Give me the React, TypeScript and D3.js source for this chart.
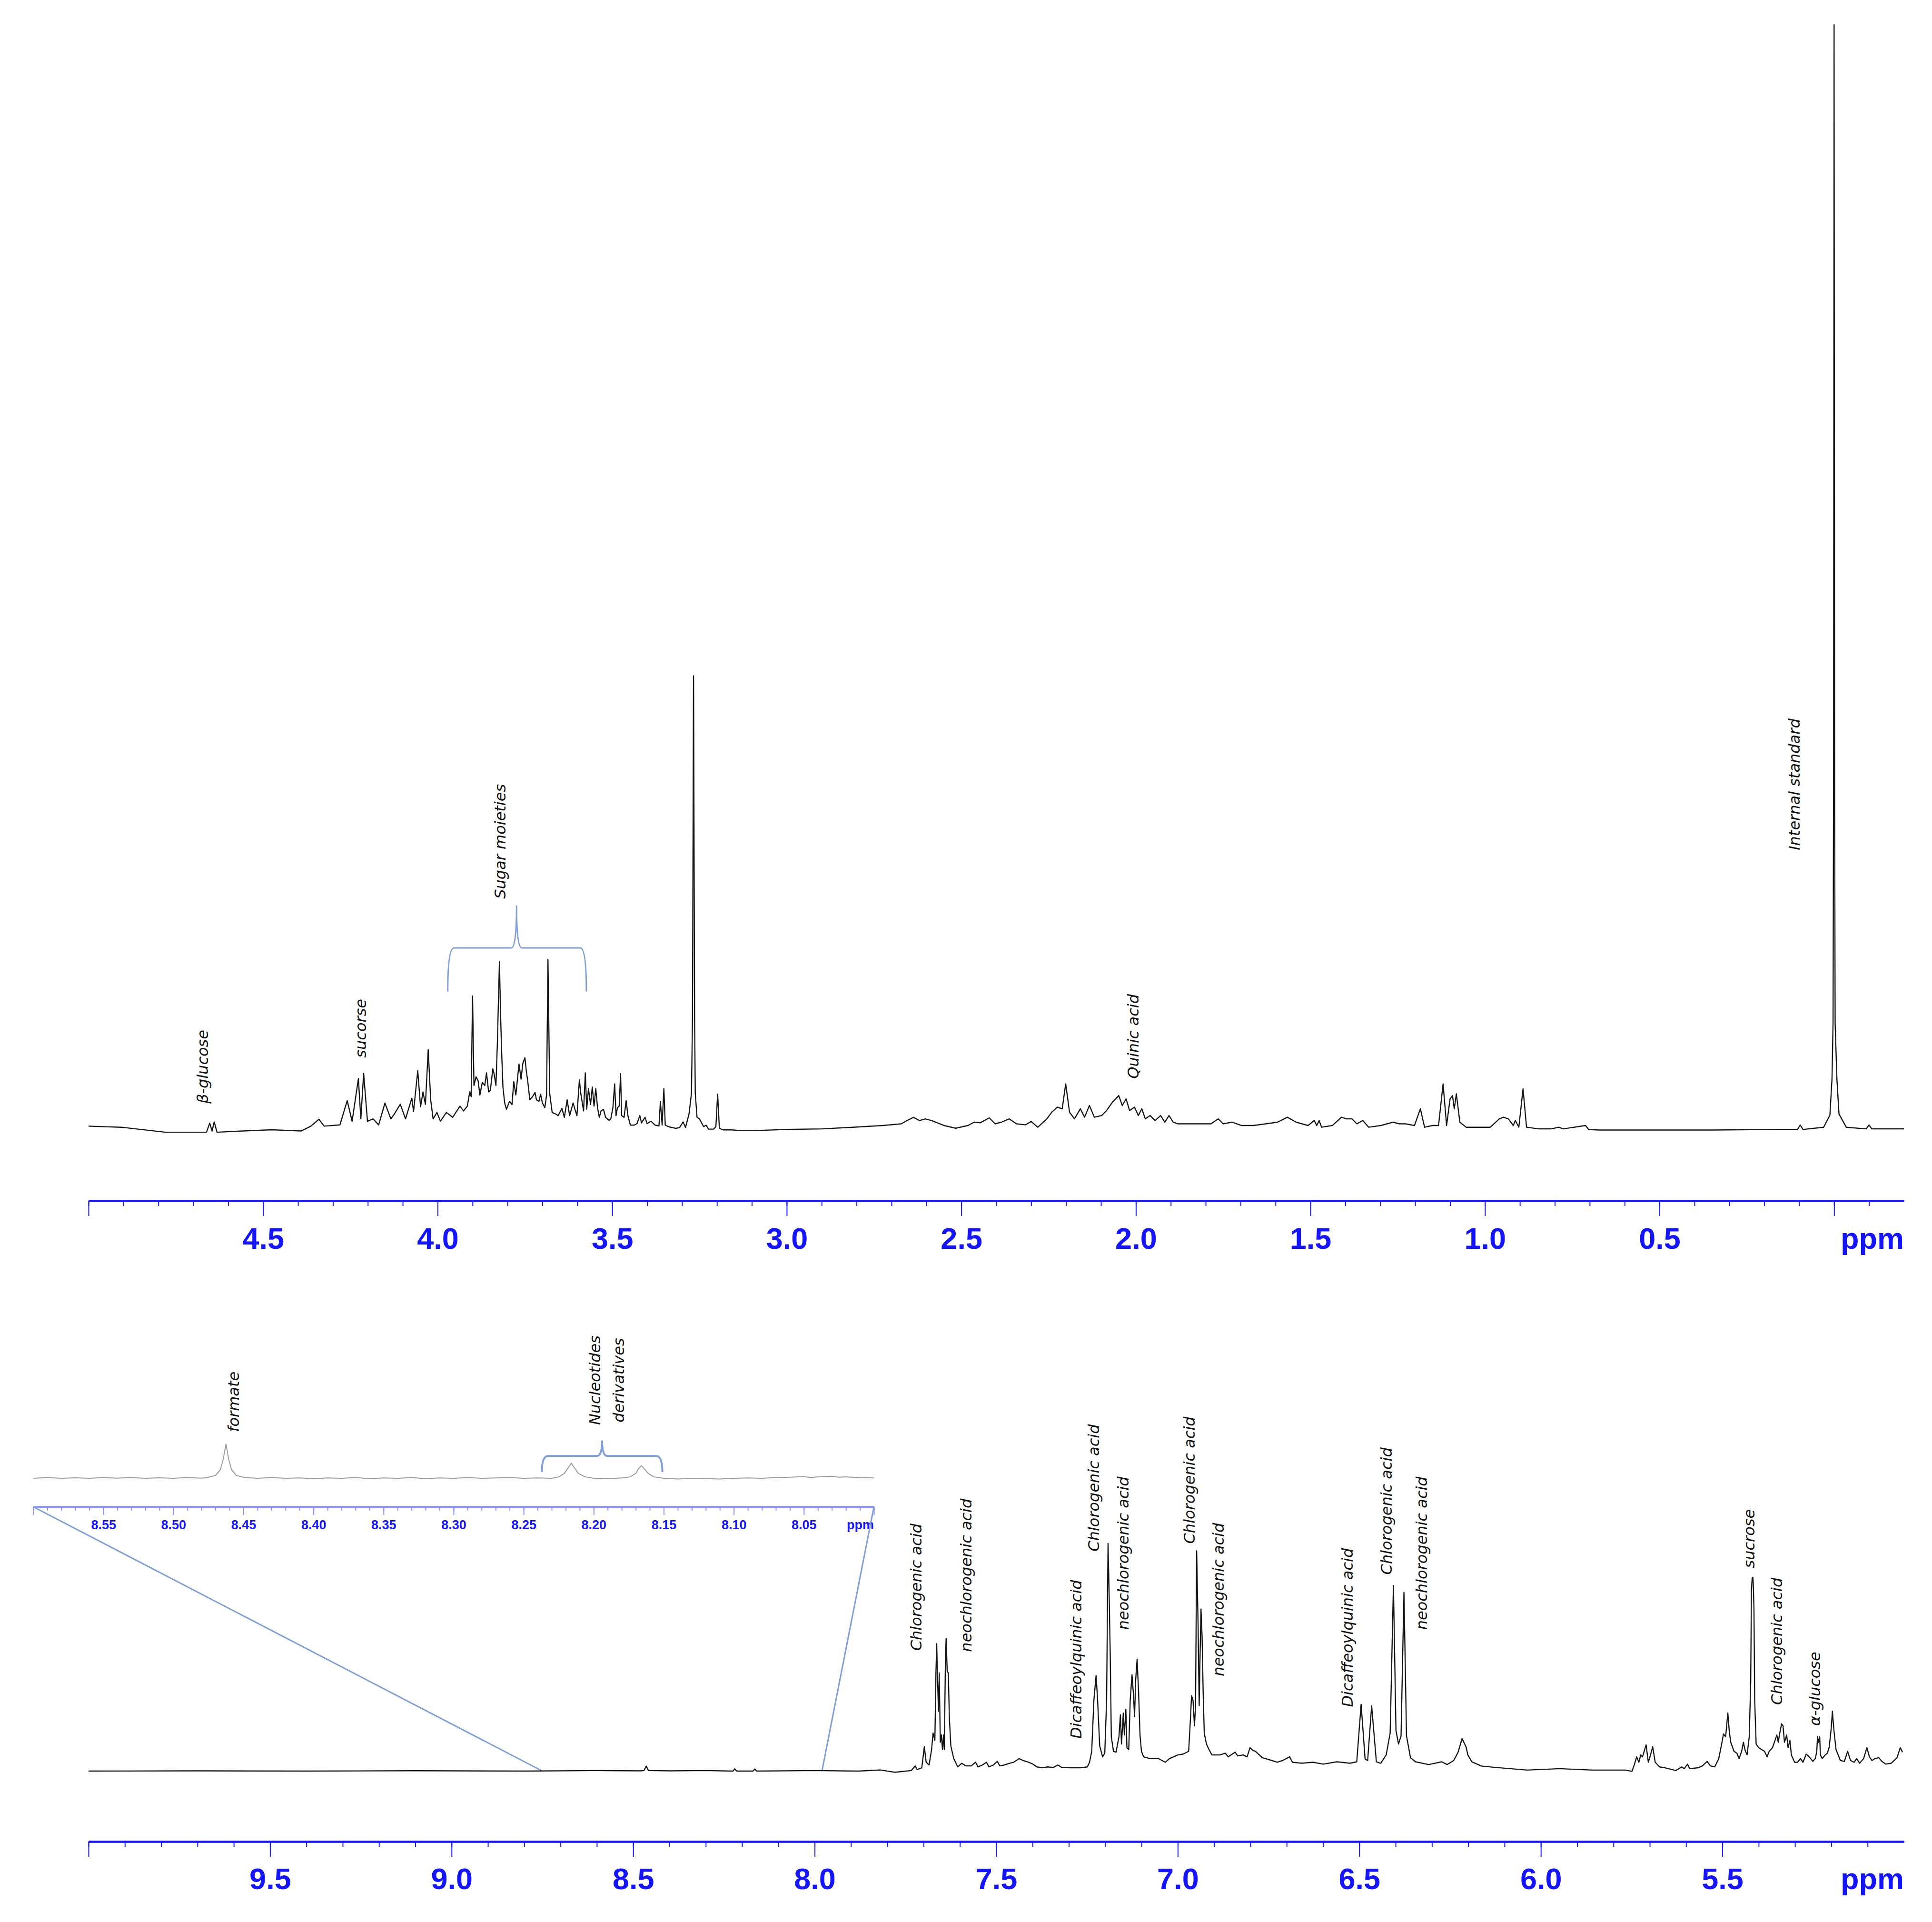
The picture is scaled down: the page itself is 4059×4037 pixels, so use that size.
import { useEffect, useRef } from 'react';
import * as d3 from 'd3';

// 1H NMR traces, [ppm, intensity]; intensity is relative to the internal standard (=100)
const topSpectrum: [number, number][] = [
  [5.0, 0.2], [4.906, 0.1], [4.78, -0.35], [4.662, -0.35], [4.653, 0.47], [4.646, -0.24], [4.64, 0.58], [4.632, -0.35],
  [4.558, -0.24], [4.475, -0.13], [4.391, -0.24], [4.363, 0.2], [4.34, 0.82], [4.325, 0.2], [4.28, 0.31], [4.259, 2.51],
  [4.245, 0.64], [4.227, 4.5], [4.22, 0.86], [4.212, 4.98], [4.201, 0.64], [4.185, 0.86], [4.169, 0.31], [4.151, 2.29],
  [4.134, 0.86], [4.124, 1.3], [4.107, 2.18], [4.092, 0.86], [4.074, 2.73], [4.069, 1.52], [4.057, 5.22], [4.049, 1.96],
  [4.042, 3.29], [4.035, 2.18], [4.027, 7.14], [4.02, 2.59], [4.013, 0.86], [4.002, 1.44], [3.992, 0.65], [3.975, 1.44],
  [3.957, 1.0], [3.936, 2.01], [3.926, 1.58], [3.915, 2.01], [3.908, 3.31], [3.904, 2.88], [3.9, 12.0], [3.896, 3.88],
  [3.89, 4.67], [3.884, 4.3], [3.879, 3.02], [3.872, 4.17], [3.865, 3.88], [3.86, 5.03], [3.854, 3.31], [3.849, 3.45],
  [3.842, 5.39], [3.838, 4.89], [3.833, 3.88], [3.829, 7.62], [3.823, 15.1], [3.82, 10.6], [3.817, 7.19], [3.813, 3.74],
  [3.808, 2.3], [3.803, 1.73], [3.794, 2.45], [3.787, 2.16], [3.782, 4.24], [3.776, 3.02], [3.767, 5.83], [3.761, 4.46],
  [3.756, 5.9], [3.75, 6.4], [3.746, 5.18], [3.742, 4.3], [3.736, 2.59], [3.728, 2.88], [3.721, 3.24], [3.717, 2.59],
  [3.71, 2.45], [3.705, 3.09], [3.7, 2.3], [3.693, 1.87], [3.688, 3.02], [3.684, 15.3], [3.679, 3.16], [3.672, 1.44],
  [3.662, 1.3], [3.655, 1.15], [3.644, 1.8], [3.637, 1.0], [3.629, 2.59], [3.622, 1.15], [3.612, 2.3], [3.606, 1.65],
  [3.601, 1.15], [3.594, 4.39], [3.59, 3.16], [3.582, 1.58], [3.577, 5.03], [3.573, 1.73], [3.568, 3.6], [3.562, 2.16],
  [3.557, 3.74], [3.552, 2.01], [3.547, 3.6], [3.542, 1.87], [3.537, 1.0], [3.532, 1.58], [3.525, 1.73], [3.519, 1.0],
  [3.509, 0.72], [3.504, 0.86], [3.498, 1.87], [3.493, 4.03], [3.489, 1.15], [3.485, 1.87], [3.48, 2.01], [3.476, 4.96],
  [3.473, 1.15], [3.466, 1.0], [3.46, 2.52], [3.455, 1.15], [3.448, 0.29], [3.437, 0.29], [3.429, 0.43], [3.421, 1.15],
  [3.416, 0.5], [3.406, 1.0], [3.4, 0.43], [3.389, 0.65], [3.377, 0.29], [3.366, 0.22], [3.362, 2.45], [3.357, 0.29],
  [3.352, 3.6], [3.348, 0.29], [3.339, 0.15], [3.328, 0.07], [3.318, 0.0], [3.307, 0.07], [3.297, 0.58], [3.29, 0.07],
  [3.28, 1.3], [3.273, 3.16], [3.27, 10], [3.267, 41.0], [3.264, 10], [3.262, 3.16], [3.257, 1.0], [3.25, 0.86],
  [3.238, 0.15], [3.231, 0.29], [3.224, -0.07], [3.21, -0.07], [3.203, 0.15], [3.198, 3.1], [3.193, 0.0], [3.182, -0.14],
  [3.158, -0.14], [3.133, -0.2], [3.088, -0.2], [3.0, -0.1], [2.898, -0.05], [2.811, 0.1], [2.724, 0.26], [2.672, 0.41],
  [2.655, 0.71], [2.637, 1.0], [2.62, 0.71], [2.603, 0.86], [2.585, 0.71], [2.55, 0.26], [2.516, 0.01], [2.481, 0.26],
  [2.463, 0.56], [2.446, 0.5], [2.42, 0.95], [2.403, 0.41], [2.385, 0.56], [2.363, 0.86], [2.342, 0.41], [2.316, 0.32],
  [2.3, 0.62], [2.281, 0.1], [2.255, 0.86], [2.241, 1.46], [2.225, 1.92], [2.211, 1.77], [2.201, 4.03], [2.19, 1.46],
  [2.176, 0.86], [2.159, 1.77], [2.147, 1.01], [2.133, 2.07], [2.119, 1.01], [2.098, 1.16], [2.084, 1.61], [2.067, 2.37],
  [2.049, 2.97], [2.039, 2.07], [2.028, 2.67], [2.018, 1.61], [2.004, 1.92], [1.993, 1.16], [1.983, 1.77], [1.973, 0.86],
  [1.959, 1.16], [1.945, 0.71], [1.929, 1.16], [1.917, 0.56], [1.905, 1.16], [1.893, 0.56], [1.88, 0.41], [1.785, 0.41],
  [1.764, 0.86], [1.75, 0.41], [1.724, 0.56], [1.698, 0.26], [1.663, 0.26], [1.628, 0.41], [1.594, 0.56], [1.566, 1.01],
  [1.541, 0.56], [1.507, 0.26], [1.489, 0.71], [1.482, 0.26], [1.475, 0.71], [1.468, 0.1], [1.437, 0.26], [1.411, 1.01],
  [1.397, 0.86], [1.381, 0.86], [1.367, 0.41], [1.35, 0.71], [1.333, 0.1], [1.298, 0.26], [1.263, 0.56], [1.246, 0.41],
  [1.228, 0.41], [1.202, 0.26], [1.185, 1.77], [1.173, 0.1], [1.15, 0.26], [1.133, 0.26], [1.12, 4.03], [1.11, 0.26],
  [1.1, 2.67], [1.093, 2.97], [1.088, 1.77], [1.082, 3.13], [1.072, 0.56], [1.054, 0.1], [1.028, 0.1], [0.985, 0.1],
  [0.959, 0.86], [0.947, 1.01], [0.933, 0.86], [0.919, 0.26], [0.913, 0.71], [0.903, 0.1], [0.891, 3.58], [0.881, 0.1],
  [0.846, -0.05], [0.811, -0.05], [0.788, 0.1], [0.776, -0.05], [0.712, 0.26], [0.703, -0.11], [0.672, -0.15],
  [0.345, -0.15], [0.169, -0.1], [0.105, -0.1], [0.097, 0.3], [0.089, -0.1], [0.03, 0.1], [0.012, 1.2], [0.006, 4.5],
  [0.003, 9.5], [0.0015, 30], [0.0, 100], [-0.0015, 30], [-0.003, 9.5], [-0.008, 4.5], [-0.014, 1.3], [-0.035, 0.1],
  [-0.092, -0.05], [-0.1, 0.3], [-0.108, -0.05], [-0.2, -0.05],
];

const bottomSpectrum: [number, number][] = [
  [10.0, 0.0], [9.7, 0.02], [9.4, 0.0], [9.1, 0.03], [8.8, 0.0], [8.6, 0.05], [8.48, 0.02], [8.47, 0.05], [8.464, 0.45],
  [8.458, 0.05], [8.4, 0.02], [8.3, 0.05], [8.225, 0.0], [8.22, 0.2], [8.215, 0.0], [8.17, 0.0], [8.165, 0.18],
  [8.16, 0.0], [8.0, 0.05], [7.88, 0.0], [7.82, 0.1], [7.779, -0.11], [7.757, -0.03], [7.734, 0.05], [7.723, 0.47],
  [7.718, 0.14], [7.705, 0.3], [7.698, 2.2], [7.693, 0.8], [7.685, 0.55], [7.678, 1.95], [7.674, 3.44], [7.669, 2.78],
  [7.666, 8.89], [7.664, 11.54], [7.662, 8.73], [7.659, 5.42], [7.657, 8.89], [7.654, 2.61], [7.651, 3.27], [7.648, 1.95],
  [7.645, 3.27], [7.643, 1.95], [7.64, 9.72], [7.638, 12.03], [7.635, 9.06], [7.632, 8.89], [7.629, 4.76], [7.625, 2.28],
  [7.617, 1.13], [7.606, 0.38], [7.595, 0.71], [7.584, 0.47], [7.569, 0.47], [7.557, 0.8], [7.55, 0.38], [7.538, 0.55],
  [7.527, 0.8], [7.52, 0.38], [7.508, 0.55], [7.497, 0.88], [7.49, 0.47], [7.478, 0.55], [7.463, 0.71], [7.452, 0.8],
  [7.437, 1.13], [7.426, 0.96], [7.411, 0.8], [7.399, 0.63], [7.388, 0.38], [7.373, 0.3], [7.358, 0.38], [7.343, 0.33],
  [7.33, 0.55], [7.32, 0.33], [7.298, 0.3], [7.268, 0.3], [7.249, 0.38], [7.243, 0.8], [7.237, 1.79], [7.231, 6.42],
  [7.225, 8.65], [7.221, 6.58], [7.215, 2.28], [7.207, 1.29], [7.201, 1.62], [7.196, 6.42], [7.192, 20.62], [7.189, 16.0],
  [7.186, 10.55], [7.183, 3.11], [7.177, 1.79], [7.17, 1.71], [7.162, 3.11], [7.158, 5.09], [7.155, 2.45], [7.15, 5.26],
  [7.147, 3.27], [7.143, 5.59], [7.14, 2.12], [7.135, 1.95], [7.131, 6.42], [7.126, 8.73], [7.122, 6.91], [7.119, 4.93],
  [7.116, 8.23], [7.112, 10.13], [7.108, 7.24], [7.104, 3.27], [7.1, 1.79], [7.094, 1.29], [7.076, 1.13], [7.053, 1.13],
  [7.034, 0.8], [7.023, 1.13], [7.0, 1.46], [6.985, 1.54], [6.97, 1.79], [6.965, 4.76], [6.962, 6.83], [6.958, 6.42],
  [6.954, 4.1], [6.951, 5.92], [6.948, 19.96], [6.944, 13.19], [6.941, 5.92], [6.939, 9.72], [6.936, 14.68], [6.933, 12.2],
  [6.93, 7.07], [6.927, 3.44], [6.921, 2.45], [6.914, 1.95], [6.906, 1.46], [6.884, 1.46], [6.869, 1.62], [6.861, 1.29],
  [6.842, 1.71], [6.835, 1.38], [6.82, 1.46], [6.809, 1.29], [6.801, 2.12], [6.793, 1.87], [6.786, 1.79], [6.767, 1.21],
  [6.741, 0.96], [6.726, 0.8], [6.711, 0.96], [6.692, 1.29], [6.684, 0.8], [6.658, 0.71], [6.628, 0.8], [6.599, 0.63],
  [6.562, 0.84], [6.526, 0.71], [6.507, 0.84], [6.495, 6.04], [6.484, 1.08], [6.477, 0.96], [6.466, 5.91], [6.453, 0.84],
  [6.441, 0.71], [6.426, 1.46], [6.415, 3.44], [6.406, 16.81], [6.399, 3.68], [6.392, 2.45], [6.385, 3.19], [6.377, 16.19],
  [6.37, 3.19], [6.359, 1.21], [6.345, 0.84], [6.309, 0.59], [6.273, 0.84], [6.258, 0.59], [6.24, 0.96], [6.228, 1.7],
  [6.217, 2.94], [6.206, 2.2], [6.201, 1.46], [6.19, 0.84], [6.164, 0.46], [6.128, 0.34], [6.038, 0.09], [5.948, 0.22],
  [5.858, 0.09], [5.767, 0.09], [5.749, -0.03], [5.742, 0.63], [5.736, 1.29], [5.73, 0.8], [5.725, 1.46], [5.72, 1.29],
  [5.71, 2.37], [5.704, 0.8], [5.698, 1.46], [5.692, 2.2], [5.685, 0.8], [5.673, 0.38], [5.658, 0.3], [5.628, 0.05],
  [5.612, 0.38], [5.605, 0.22], [5.596, 0.63], [5.59, 0.22], [5.567, 0.3], [5.555, 0.47], [5.542, 0.88], [5.533, 0.47],
  [5.521, 0.38], [5.51, 1.13], [5.502, 2.45], [5.497, 3.36], [5.491, 3.11], [5.485, 5.26], [5.481, 3.61], [5.477, 2.61],
  [5.468, 1.79], [5.46, 1.62], [5.454, 1.13], [5.447, 1.79], [5.442, 2.61], [5.438, 1.95], [5.432, 1.46], [5.426, 3.11],
  [5.422, 8.07], [5.42, 16.33], [5.418, 17.48], [5.416, 17.57], [5.415, 16.99], [5.413, 14.68], [5.411, 6.42],
  [5.407, 2.45], [5.4, 2.12], [5.392, 1.95], [5.384, 1.79], [5.377, 1.29], [5.371, 1.79], [5.362, 2.12], [5.355, 2.78],
  [5.35, 3.27], [5.346, 2.61], [5.343, 3.27], [5.337, 4.27], [5.333, 4.1], [5.329, 2.61], [5.323, 3.27], [5.319, 2.12],
  [5.314, 2.78], [5.31, 1.46], [5.301, 0.8], [5.293, 0.8], [5.285, 1.13], [5.278, 0.8], [5.269, 1.54], [5.261, 1.29],
  [5.251, 0.88], [5.244, 1.13], [5.24, 1.79], [5.238, 3.11], [5.235, 2.61], [5.232, 3.11], [5.23, 1.46], [5.225, 1.13],
  [5.217, 1.46], [5.211, 1.62], [5.206, 2.12], [5.2, 3.94], [5.197, 5.42], [5.193, 3.77], [5.187, 1.95], [5.175, 0.96],
  [5.164, 0.88], [5.155, 1.79], [5.147, 0.96], [5.137, 0.8], [5.13, 1.13], [5.122, 0.71], [5.111, 1.13], [5.102, 2.12],
  [5.095, 1.29], [5.088, 0.96], [5.08, 1.13], [5.069, 1.21], [5.061, 0.88], [5.05, 0.63], [5.035, 0.71], [5.019, 1.21],
  [5.01, 2.12], [5.004, 1.71],
];

// expanded 8.6-8.0 ppm region, intensity relative to formate (=100)
const insetSpectrum: [number, number][] = [
  [8.6, 0], [8.59, 2], [8.58, 0], [8.57, 1.5], [8.56, 0], [8.55, 2], [8.54, 0.5], [8.53, 2], [8.52, 0], [8.51, 1.5],
  [8.5, 0], [8.49, 2], [8.48, 0.5], [8.476, 2], [8.47, 8], [8.4665, 25], [8.4645, 55], [8.4625, 100], [8.4605, 55],
  [8.4585, 25], [8.455, 8], [8.449, 2], [8.44, 0], [8.43, 2], [8.42, 0], [8.41, 1], [8.4, -1], [8.39, 1], [8.38, 0],
  [8.37, 2], [8.36, -1], [8.35, 1], [8.34, 0], [8.33, 2], [8.32, -1], [8.31, 1], [8.3, 0], [8.29, 2], [8.28, 0],
  [8.27, 1], [8.26, 2], [8.25, 0], [8.24, 1], [8.23, 0], [8.225, 4], [8.221, 14], [8.218, 32], [8.216, 44], [8.214, 32],
  [8.211, 14], [8.206, 4], [8.2, 0], [8.19, -1], [8.18, 1], [8.174, 4], [8.17, 14], [8.168, 28], [8.166, 37], [8.164, 28],
  [8.161, 14], [8.157, 4], [8.15, 0], [8.14, -2], [8.13, 0], [8.12, -1], [8.11, -2], [8.1, 0], [8.09, 1], [8.08, 0],
  [8.07, 2], [8.06, 3], [8.05, 5], [8.045, 2], [8.04, 4], [8.03, 6], [8.025, 3], [8.02, 4], [8.01, 2], [8.0, 1],
];

const topMajor = [5.0, 4.5, 4.0, 3.5, 3.0, 2.5, 2.0, 1.5, 1.0, 0.5, 0.0];
const topTickLabels = ['4.5', '4.0', '3.5', '3.0', '2.5', '2.0', '1.5', '1.0', '0.5'];
const bottomMajor = [10.0, 9.5, 9.0, 8.5, 8.0, 7.5, 7.0, 6.5, 6.0, 5.5];
const bottomTickLabels = ['9.5', '9.0', '8.5', '8.0', '7.5', '7.0', '6.5', '6.0', '5.5'];
const insetMajor = [8.6, 8.55, 8.5, 8.45, 8.4, 8.35, 8.3, 8.25, 8.2, 8.15, 8.1, 8.05, 8.0];
const insetTickLabels = ['8.55', '8.50', '8.45', '8.40', '8.35', '8.30', '8.25', '8.20', '8.15', '8.10', '8.05'];

// annotations: ppm of the label column, intensity where the text starts
const topLabels = [
  { text: 'β-glucose', ppm: 4.673, at: 2.24 },
  { text: 'sucorse', ppm: 4.22, at: 6.4 },
  { text: 'Sugar moieties', ppm: 3.821, at: 20.8 },
  { text: 'Quinic acid', ppm: 2.007, at: 4.5 },
  { text: 'Internal standard', ppm: 0.114, at: 25.2 },
];
const bottomLabels = [
  { text: 'Chlorogenic acid', ppm: 7.72, at: 10.9 },
  { text: 'neochlorogenic acid', ppm: 7.583, at: 10.8 },
  { text: 'Dicaffeoylquinic acid', ppm: 7.28, at: 2.93 },
  { text: 'Chlorogenic acid', ppm: 7.231, at: 19.9 },
  { text: 'neochlorogenic acid', ppm: 7.15, at: 12.8 },
  { text: 'Chlorogenic acid', ppm: 6.968, at: 20.6 },
  { text: 'neochlorogenic acid', ppm: 6.888, at: 8.6 },
  { text: 'Dicaffeoylquinic acid', ppm: 6.532, at: 5.8 },
  { text: 'Chlorogenic acid', ppm: 6.425, at: 17.8 },
  { text: 'neochlorogenic acid', ppm: 6.328, at: 12.8 },
  { text: 'sucrose', ppm: 5.426, at: 18.4 },
  { text: 'Chlorogenic acid', ppm: 5.35, at: 6.0 },
  { text: 'α-glucose', ppm: 5.245, at: 4.1 },
];
const insetLabels = [
  { text: 'formate', ppm: 8.457, at: 135, anchor: 'start' },
  { text: 'Nucleotides', ppm: 8.199, at: 286, anchor: 'middle' },
  { text: 'derivatives', ppm: 8.182, at: 286, anchor: 'middle' },
];
const sugarBrace = { from: 3.971, to: 3.574, mid: 3.774, foot: 12.4, bar: 16.35, tip: 20.2 };
const nucleoBrace = { from: 8.237, to: 8.151, mid: 8.194, foot: 18, bar: 65, tip: 110 };
const zoomFrom = [8.6, 8.0];
const zoomTo = [8.75, 7.98];

const BLUE = '#1414ff';
const LINK = '#7f9fdb';
const W = 4059;
const H = 4037;

export default function App() {
  const ref = useRef<SVGSVGElement | null>(null);

  useEffect(() => {
    document.body.style.margin = '0';
    if (!ref.current) return;
    const svg = d3.select(ref.current);
    svg.selectAll('*').remove();

    const xTop = d3.scaleLinear().domain([5.0, -0.2]).range([186, 4000]);
    const yTop = d3.scaleLinear().domain([0, 100]).range([2370, 52]);
    const xBot = d3.scaleLinear().domain([10.0, 5.0]).range([186, 4000]);
    const yBot = d3.scaleLinear().domain([0, 25]).range([3720, 3140.5]);
    const xIn = d3.scaleLinear().domain([8.6, 8.0]).range([70, 1836]);
    const yIn = d3.scaleLinear().domain([0, 100]).range([3105, 3033]);

    const fmt1 = d3.format('.1f');
    const fmt2 = d3.format('.2f');

    const drawAxis = (x: d3.ScaleLinear<number, number>, y0: number, majors: number[], minors: number[],
      labels: string[], fmt: (n: number) => string, o: { major: number; minor: number; pad: number; size: number; line: string; width: number }) => {
      const g = svg.append('g').attr('transform', `translate(0,${y0})`);
      g.append('g').call(d3.axisBottom(x).tickValues(minors).tickSize(o.minor).tickSizeOuter(0).tickFormat(() => ''));
      g.append('g').call(d3.axisBottom(x).tickValues(majors).tickSize(o.major).tickSizeOuter(0).tickPadding(o.pad)
        .tickFormat(d => (labels.includes(fmt(+d)) ? fmt(+d) : '')));
      g.selectAll('.domain').attr('stroke', o.line).attr('stroke-width', o.width);
      g.selectAll('.tick line').attr('stroke', o.line).attr('stroke-width', Math.max(1.5, o.width / 2));
      g.selectAll('.tick text').attr('fill', BLUE).attr('font-size', o.size).attr('font-weight', 'bold')
        .attr('font-family', '"Liberation Sans", Arial, sans-serif');
      g.append('text').attr('x', x.range()[1]).attr('y', o.major + o.pad).attr('dy', '0.71em')
        .attr('text-anchor', 'end').attr('fill', BLUE).attr('font-size', o.size).attr('font-weight', 'bold')
        .attr('font-family', '"Liberation Sans", Arial, sans-serif').text('ppm');
    };

    const tenths = (a: number, b: number) => d3.range(Math.round(b * 10), Math.round(a * 10) + 1).map(i => i / 10);
    const hundredths = (a: number, b: number) => d3.range(Math.round(b * 100), Math.round(a * 100) + 1).map(i => i / 100);

    drawAxis(xTop, 2522, topMajor, tenths(5.0, -0.1), topTickLabels, fmt1,
      { major: 32, minor: 11, pad: 24, size: 63, line: BLUE, width: 4 });
    drawAxis(xBot, 3868, bottomMajor, tenths(10.0, 5.1), bottomTickLabels, fmt1,
      { major: 32, minor: 11, pad: 23, size: 63, line: BLUE, width: 4 });
    drawAxis(xIn, 3165, insetMajor, hundredths(8.6, 8.0), insetTickLabels, fmt2,
      { major: 17, minor: 8, pad: 11, size: 27, line: '#8e8eff', width: 4 });

    // zoom link lines
    zoomFrom.forEach((p, i) => {
      svg.append('line')
        .attr('x1', xIn(p)).attr('y1', 3165)
        .attr('x2', xBot(zoomTo[i])).attr('y2', yBot(0))
        .attr('stroke', LINK).attr('stroke-width', 3);
    });

    const trace = (data: [number, number][], x: d3.ScaleLinear<number, number>, y: d3.ScaleLinear<number, number>, color: string, w: number) => {
      const line = d3.line<[number, number]>().x(d => x(d[0])).y(d => y(d[1]));
      svg.append('path').datum(data).attr('d', line).attr('fill', 'none')
        .attr('stroke', color).attr('stroke-width', w).attr('stroke-linejoin', 'round');
    };
    trace(topSpectrum, xTop, yTop, '#151515', 2.4);
    trace(bottomSpectrum, xBot, yBot, '#151515', 2.4);
    trace(insetSpectrum, xIn, yIn, '#9a9a9a', 2);

    const brace = (b: typeof sugarBrace, x: d3.ScaleLinear<number, number>, y: d3.ScaleLinear<number, number>, w: number) => {
      const x1 = x(b.from), x2 = x(b.to), xm = x(b.mid);
      const yf = y(b.foot), yb = y(b.bar), yt = y(b.tip);
      const r = 13, r2 = 11;
      const p = d3.path();
      p.moveTo(x1, yf);
      p.quadraticCurveTo(x1, yb, x1 + r, yb);
      p.lineTo(xm - r2, yb);
      p.quadraticCurveTo(xm, yb, xm, yt);
      p.quadraticCurveTo(xm, yb, xm + r2, yb);
      p.lineTo(x2 - r, yb);
      p.quadraticCurveTo(x2, yb, x2, yf);
      svg.append('path').attr('d', p.toString()).attr('fill', 'none').attr('stroke', LINK).attr('stroke-width', w);
    };
    brace(sugarBrace, xTop, yTop, 3);
    brace(nucleoBrace, xIn, yIn, 4);

    const labelFont = '"DejaVu Sans", Verdana, sans-serif';
    const putLabels = (list: { text: string; ppm: number; at: number; anchor?: string }[],
      x: d3.ScaleLinear<number, number>, y: d3.ScaleLinear<number, number>) => {
      svg.append('g').selectAll('text').data(list).enter().append('text')
        .attr('transform', d => `translate(${x(d.ppm)},${y(d.at)}) rotate(-90)`)
        .attr('text-anchor', d => d.anchor || 'start')
        .attr('dominant-baseline', 'central')
        .attr('font-family', labelFont).attr('font-style', 'italic').attr('font-size', 32)
        .attr('fill', '#111')
        .text(d => d.text);
    };
    putLabels(topLabels, xTop, yTop);
    putLabels(bottomLabels, xBot, yBot);
    putLabels(insetLabels, xIn, yIn);
  }, []);

  return <svg ref={ref} width={W} height={H} style={{ display: 'block', background: '#fff' }} />;
}
